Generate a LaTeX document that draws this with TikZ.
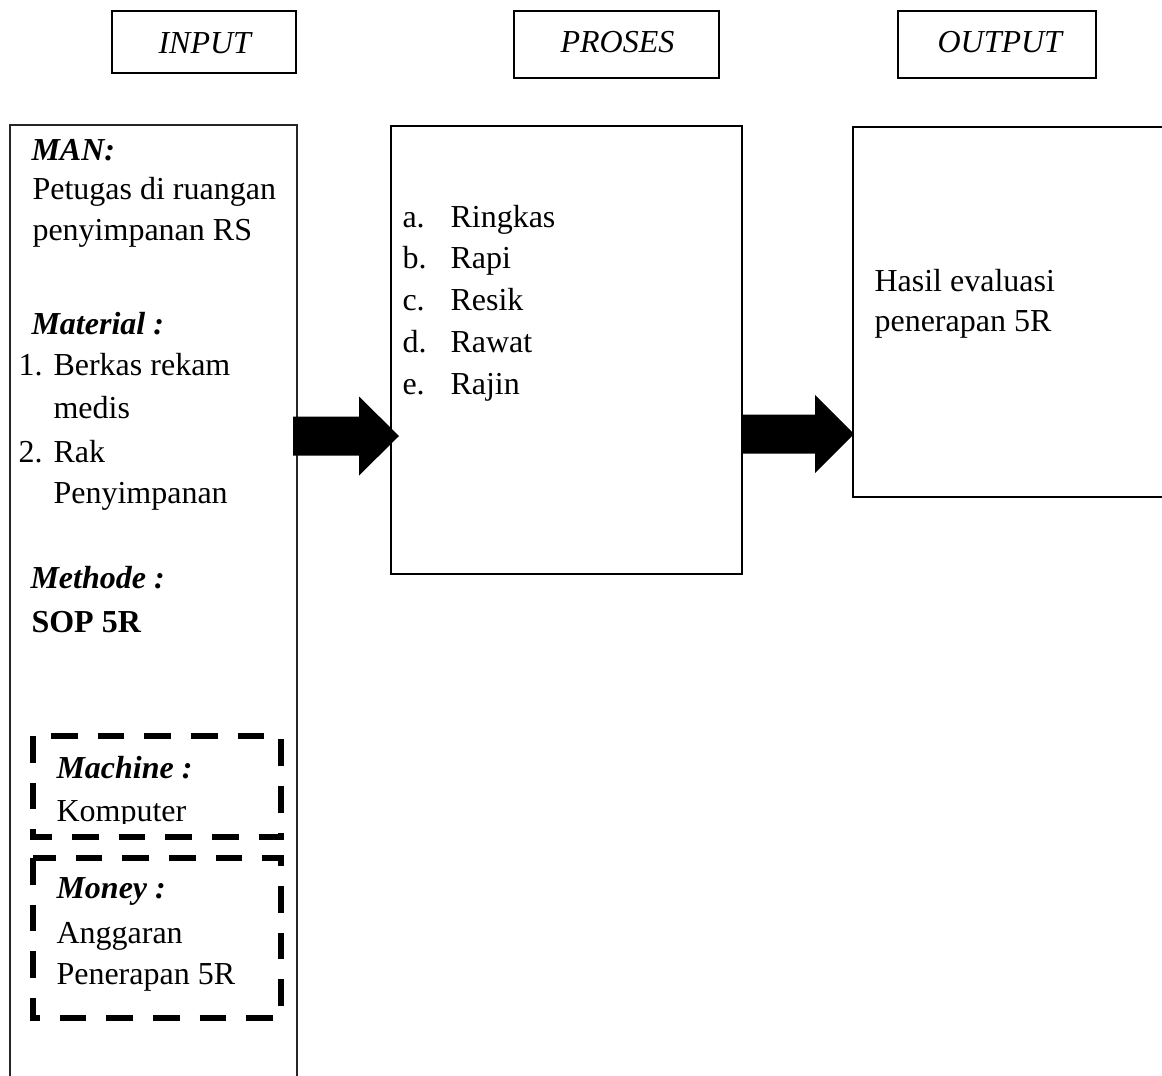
\documentclass[tikz,border=0pt]{standalone}
\usepackage{fontspec}
\setmainfont{Liberation Serif}
\usetikzlibrary{calc}
\begin{document}
\begin{tikzpicture}[x=0.375pt,y=-0.375pt,
  txt/.style={anchor=base west, inner sep=0pt, font=\fontsize{12pt}{14pt}\selectfont},
  bi/.style={txt, font=\fontsize{12pt}{14pt}\selectfont\bfseries\itshape},
  bo/.style={txt, font=\fontsize{12pt}{14pt}\selectfont\bfseries},
  it/.style={txt, font=\fontsize{12pt}{14pt}\selectfont\itshape},
  hdrbox/.style={draw=black, line width=1.1pt},
  midbox/.style={draw=black, line width=0.8pt},
  thinbox/.style={draw=black!85, line width=0.5pt},
  dashbox/.style={draw=black, line width=1.9pt, dash pattern=on 10pt off 7.5pt},
  blockarrow/.style={fill=black, draw=none}]
\useasboundingbox (0,0) rectangle (1162,1075);
\clip (0,0) rectangle (1162,1075);

% header boxes
\draw[hdrbox] (112,11) rectangle (296,73);
\draw[hdrbox] (514,11) rectangle (719,78);
\draw[hdrbox] (898,11) rectangle (1096,78);
\node[it] (hin) at (158,53) {INPUT};
\node[it] (hpr) at (560,52) {PROSES};
\node[it] (hout) at (937,52) {OUTPUT};

% main boxes
\draw[thinbox] (10,125) rectangle (297,1200);
\draw[midbox] (391,126) rectangle (742,574);
\draw[midbox] (853,127) rectangle (1180,497);
\coordinate (inR) at (297,436);
\coordinate (prL) at (391,436);
\coordinate (prR) at (742,434);
\coordinate (outL) at (853,434);

% left box texts
\node[bi] (man) at (31,160) {MAN:};
\node[txt] (man1) at (32,199) {Petugas di ruangan};
\node[txt] (man2) at (32,240) {penyimpanan RS};
\node[bi] (mat) at (31,334) {Material :};
\node[txt] (n1) at (18,375) {1.};
\node[txt] (mat1) at (53,375) {Berkas rekam};
\node[txt] (mat1b) at (53,418) {medis};
\node[txt] (n2) at (18,462) {2.};
\node[txt] (mat2) at (53,462) {Rak};
\node[txt] (mat2b) at (53,503) {Penyimpanan};
\node[bi] (met) at (30,588) {Methode :};
\node[bo] (met1) at (31,632) {SOP 5R};

% machine / money
\node[bi] (mach) at (56,778) {Machine :};
\begin{scope}
  \clip (0,700) rectangle (300,823);
  \node[txt] (mach1) at (56,821) {Komputer};
\end{scope}
\draw[dashbox] (33,736) rectangle (281,837);
\node[bi] (mon) at (56,898) {Money :};
\node[txt] (mon1) at (56,943) {Anggaran};
\node[txt] (mon2) at (56,984) {Penerapan 5R};
\draw[dashbox] (33,858) rectangle (281,1018);

% proses list
\foreach \l/\t/\y [count=\i] in {a./Ringkas/227, b./Rapi/268, c./Resik/310, d./Rawat/352, e./Rajin/394}{
  \node[txt] (pl\i) at (402,\y) {\l};
  \node[txt] (pt\i) at (450,\y) {\t};
}

% output text
\node[txt] (o1) at (874,291) {Hasil evaluasi};
\node[txt] (o2) at (874,331) {penerapan 5R};

% block arrows
\fill[blockarrow] ($(inR)+(-4,-19.5)$) -- ($(prL)+(-32,-19.5)$) -- ($(prL)+(-32,-39.5)$)
  -- ($(prL)+(8,0)$) -- ($(prL)+(-32,39.5)$) -- ($(prL)+(-32,19.5)$)
  -- ($(inR)+(-4,19.5)$) -- cycle;
\fill[blockarrow] ($(prR)+(0,-19.5)$) -- ($(outL)+(-38,-19.5)$) -- ($(outL)+(-38,-39)$)
  -- ($(outL)+(1,0)$) -- ($(outL)+(-38,39)$) -- ($(outL)+(-38,19.5)$)
  -- ($(prR)+(0,19.5)$) -- cycle;
\end{tikzpicture}
\end{document}
